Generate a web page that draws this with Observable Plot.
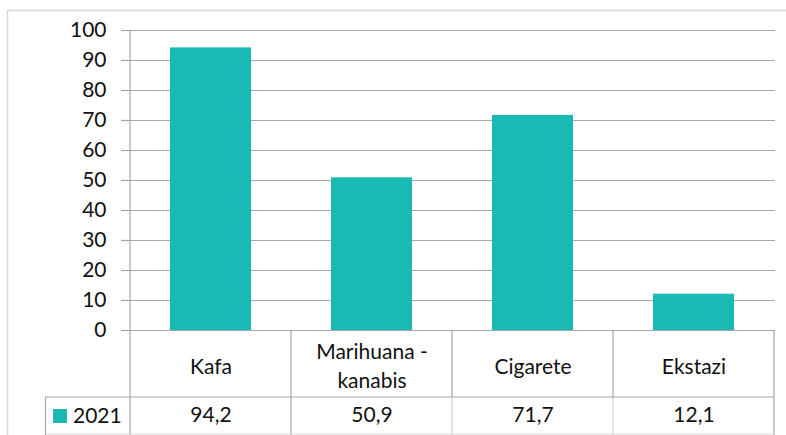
<!DOCTYPE html>
<html>
<head>
<meta charset="utf-8">
<script src="https://cdn.jsdelivr.net/npm/d3@7"></script>
<script src="https://cdn.jsdelivr.net/npm/@observablehq/plot@0.6"></script>
<style>
  html, body { margin: 0; padding: 0; background: #fff; }
  svg { display: block; font-family: Lato, "Open Sans", sans-serif; }
</style>
</head>
<body>
<div id="chart"></div>
<script>
const categories = ["Kafa", "Marihuana -\nkanabis", "Cigarete", "Ekstazi"];
const values2021 = [94.2, 50.9, 71.7, 12.1];
const seriesName = "2021";
const yTicks = [0, 10, 20, 30, 40, 50, 60, 70, 80, 90, 100];

const data = categories.map((c, i) => ({cat: c, val: values2021[i]}));
const fmt = v => v.toFixed(1).replace(".", ",");
const barColor = "#18bab3";
const lineColor = "#a6a6a6";
const textColor = "#111111";
const fs = 21;

const plot = Plot.plot({
  width: 786,
  height: 435,
  marginLeft: 128,
  marginRight: 11,
  marginTop: 30,
  marginBottom: 105,
  style: {fontFamily: "Lato, 'Open Sans', sans-serif", fontSize: fs + "px", color: textColor, background: "#fff", overflow: "visible"},
  x: {domain: categories, paddingInner: 0.5, paddingOuter: 0.25, axis: null},
  y: {domain: [0, 100], axis: null},
  marks: [
    Plot.gridY(yTicks.filter(d => d > 0), {stroke: lineColor, strokeOpacity: 1, strokeWidth: 1.2}),
    Plot.barY(data, {x: "cat", y: "val", fill: barColor}),
    Plot.axisY(yTicks, {tickSize: 7, tickPadding: 15, stroke: lineColor, strokeWidth: 1.2, fontSize: fs, fill: textColor, label: null, tickFormat: d => String(d)}),
    Plot.ruleY([0], {stroke: lineColor, strokeWidth: 1.2}),
    Plot.text(data, {x: "cat", y: () => 0, text: "cat", dy: 34, fontSize: fs, fill: textColor, lineHeight: 1.35}),
    Plot.text(data, {x: "cat", y: () => 0, text: d => fmt(d.val), dy: 85, fontSize: fs, fill: textColor})
  ]
});

document.getElementById("chart").appendChild(plot);

// Data-table grid and legend key, positioned from Plot's own x scale
const svg = d3.select(plot);
const xs = plot.scale("x");
const step = xs.step;
const firstCenter = xs.apply(categories[0]) + xs.bandwidth / 2;
const edges = [];
for (let i = 0; i <= categories.length; i++) edges.push(firstCenter - step / 2 + i * step);
const yZero = 330, yRow = 397, yBottom = 434;
const g = svg.append("g");

// outer chart frame
g.append("line").attr("x1", 7.5).attr("x2", 7.5).attr("y1", 10).attr("y2", 435).attr("stroke", "#d9d9d9").attr("stroke-width", 1.5);
g.append("line").attr("x1", 7).attr("x2", 786).attr("y1", 10.5).attr("y2", 10.5).attr("stroke", "#d9d9d9").attr("stroke-width", 1.5);

// y axis line continues down through the table
g.append("line").attr("x1", edges[0]).attr("x2", edges[0]).attr("y1", 30).attr("y2", 435).attr("stroke", lineColor).attr("stroke-width", 1.2);
edges.slice(1).forEach((x, i) => {
  const last = i === categories.length - 1;
  const first = i === 0;
  g.append("line").attr("x1", x).attr("x2", x).attr("y1", yZero).attr("y2", yRow).attr("stroke", lineColor).attr("stroke-width", 1.2);
  g.append("line").attr("x1", x).attr("x2", x).attr("y1", yRow).attr("y2", 435)
    .attr("stroke", (first || last) ? lineColor : "#d0d0d0").attr("stroke-width", 1.2);
});
// table horizontal lines
g.append("line").attr("x1", 45).attr("x2", edges[edges.length - 1]).attr("y1", yRow).attr("y2", yRow).attr("stroke", lineColor).attr("stroke-width", 1.2);
g.append("line").attr("x1", 45).attr("x2", edges[edges.length - 1]).attr("y1", yBottom).attr("y2", yBottom).attr("stroke", "#d9d9d9").attr("stroke-width", 1.2);
g.append("line").attr("x1", 45.5).attr("x2", 45.5).attr("y1", yRow).attr("y2", 435).attr("stroke", lineColor).attr("stroke-width", 1.2);

// legend key
g.append("rect").attr("x", 53).attr("y", 409).attr("width", 14).attr("height", 14).attr("fill", barColor);
g.append("text").attr("x", 73).attr("y", 416).attr("dy", "0.35em").attr("text-anchor", "start")
  .attr("font-size", fs).attr("fill", textColor).text(seriesName);
</script>
</body>
</html>
